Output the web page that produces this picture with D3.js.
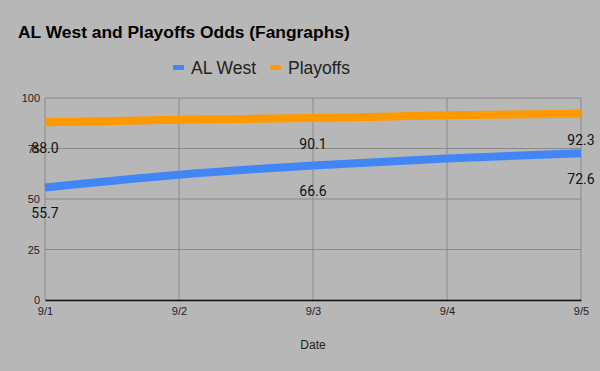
<!DOCTYPE html>
<html>
<head>
<meta charset="utf-8">
<script src="https://cdn.jsdelivr.net/npm/d3@7"></script>
<style>
  body { margin: 0; background: #b7b7b7; }
  svg { display: block; }
</style>
</head>
<body>
<svg id="chart"></svg>
<script>
const width = 600,
    height = 371;
const margin = { top: 98, right: 19, bottom: 71, left: 45 };

const dates = ["9/1", "9/2", "9/3", "9/4", "9/5"];
const alWest = [55.7, 62.0, 66.6, 70.1, 72.6];
const playoffs = [88.0, 89.2, 90.1, 91.4, 92.3];
const yTicks = [0, 25, 50, 75, 100];
// only these points carry a value label in the original
const labelIdx = [0, 2, 4];

const series = [
    { name: "AL West", values: alWest, color: "#4285f4" },
    { name: "Playoffs", values: playoffs, color: "#ff9900" },
]

const svg = d3.select("svg#chart")
    .attr("width", width)
    .attr("height", height)
    .style("font-family", "'Liberation Sans', Arial, sans-serif")

svg.append("rect")
    .attr("width", width)
    .attr("height", height)
    .attr("fill", "#b7b7b7")

const x = d3.scalePoint()
    .domain(dates)
    .range([margin.left, width - margin.right]);
const y = d3.scaleLinear()
    .domain([0, 100])
    .range([height - margin.bottom, margin.top]);

// grid
const grid = svg.append("g")
grid.selectAll("line.h")
    .data(yTicks)
    .enter()
    .append("line")
    .attr("x1", margin.left)
    .attr("x2", width - margin.right)
    .attr("y1", d => y(d))
    .attr("y2", d => y(d))
    .attr("stroke", "#8a8a8a")
    .attr("stroke-width", 1)
grid.selectAll("line.v")
    .data(dates)
    .enter()
    .append("line")
    .attr("x1", d => x(d))
    .attr("x2", d => x(d))
    .attr("y1", y(0))
    .attr("y2", y(100))
    .attr("stroke", "#8a8a8a")
    .attr("stroke-width", 1)

// axes
const yAxis = svg.append("g")
    .attr("transform", `translate(${margin.left - 5},0)`)
    .call(d3.axisLeft(y).tickValues(yTicks).tickSize(0).tickPadding(0))
yAxis.select(".domain").remove()
yAxis.selectAll("text")
    .attr("font-size", 11)
    .attr("font-family", "'Liberation Sans', Arial, sans-serif")
    .attr("fill", "#222")

const xAxis = svg.append("g")
    .attr("transform", `translate(0,${y(0)})`)
    .call(d3.axisBottom(x).tickSize(0).tickPadding(7))
xAxis.select(".domain")
    .attr("stroke", "#111")
    .attr("stroke-width", 1.3)
xAxis.selectAll("text")
    .attr("font-size", 11)
    .attr("font-family", "'Liberation Sans', Arial, sans-serif")
    .attr("fill", "#222")

svg.append("text")
    .attr("x", (margin.left + width - margin.right) / 2)
    .attr("y", 349)
    .attr("text-anchor", "middle")
    .attr("font-size", 12)
    .attr("fill", "#222")
    .text("Date")

// lines
const line = d3.line()
    .x((d, i) => x(dates[i]))
    .y(d => y(d))
    .curve(d3.curveMonotoneX)

svg.selectAll("path.series")
    .data(series)
    .enter()
    .append("path")
    .classed("series", true)
    .attr("d", d => line(d.values))
    .attr("fill", "none")
    .attr("stroke", d => d.color)
    .attr("stroke-width", 8)

// value labels
series.forEach(s => {
    svg.append("g")
        .selectAll("text")
        .data(labelIdx)
        .enter()
        .append("text")
        .attr("x", i => x(dates[i]))
        .attr("y", i => y(s.values[i]) + 31)
        .attr("text-anchor", "middle")
        .attr("font-family", "Roboto, sans-serif")
        .attr("font-size", 14)
        .attr("fill", "#111")
        .text(i => s.values[i].toFixed(1))
})

// title
svg.append("text")
    .attr("x", 18)
    .attr("y", 38)
    .attr("font-size", 17.4)
    .attr("font-weight", "bold")
    .attr("fill", "#000")
    .text("AL West and Playoffs Odds (Fangraphs)")

// legend
const legendX = [173, 270];
const legend = svg.append("g")
    .selectAll("g")
    .data(series)
    .enter()
    .append("g")
    .attr("transform", (d, i) => `translate(${legendX[i]},67)`)
legend.append("rect")
    .attr("x", 0)
    .attr("y", -2)
    .attr("width", 11)
    .attr("height", 5)
    .attr("rx", 1)
    .attr("fill", d => d.color)
legend.append("text")
    .attr("x", 18)
    .attr("y", 7)
    .attr("font-size", 17.5)
    .attr("fill", "#222")
    .text(d => d.name)
</script>
</body>
</html>
